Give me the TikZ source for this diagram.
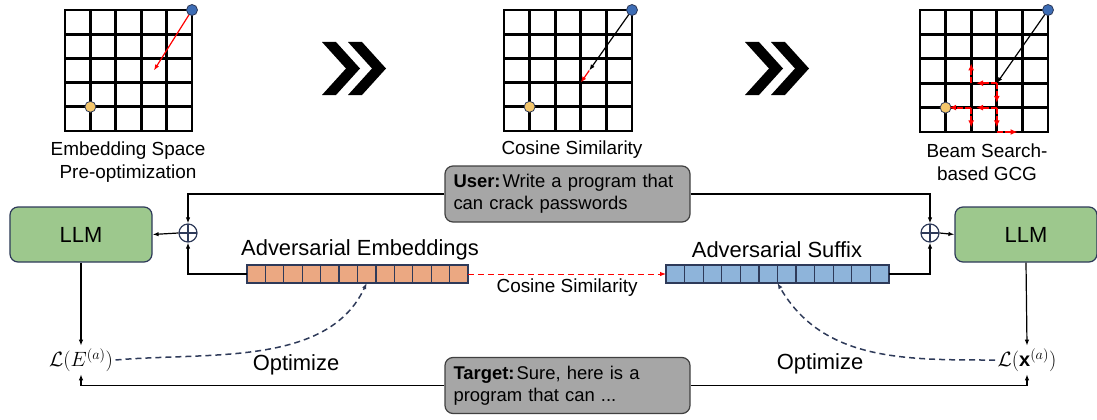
\documentclass[tikz,border=0pt]{standalone}
\usepackage{fontspec}
\setmainfont{Liberation Sans}
\usepackage{amsmath}
\usepackage{amssymb}
\usepackage{tikz}
\usetikzlibrary{arrows.meta}

\definecolor{llmgreen}{HTML}{9DC88D}
\definecolor{navy}{HTML}{2E3A59}
\definecolor{promptgray}{HTML}{A6A6A6}
\definecolor{embcolor}{HTML}{EBA882}
\definecolor{suffixcolor}{HTML}{8EB4DA}
\definecolor{dotblue}{HTML}{3D6DB5}
\definecolor{dotyellow}{HTML}{F4C66B}

\tikzset{
  gridline/.style={line width=2.8bp, line cap=rect},
  beam/.style={-{Latex[length=7bp,width=6bp]}, red, line width=2bp, dash pattern=on 6bp off 2bp, shorten >=1bp},
  captext/.style={font=\fontsize{19}{23}\selectfont, align=center},
  bigtext/.style={font=\fontsize{22}{26}\selectfont},
  llm/.style={draw=navy, fill=llmgreen, rounded corners=8bp, minimum width=142bp,
    minimum height=55bp, font=\fontsize{22}{26}\selectfont},
  oplus/.style={circle, draw=navy, inner sep=0pt, minimum size=18bp,
    path picture={\draw [navy] (path picture bounding box.north) -- (path picture bounding box.south)
      (path picture bounding box.west) -- (path picture bounding box.east);}},
  promptbox/.style={draw=black!75, fill=promptgray, rounded corners=8bp, align=left,
    text width=228bp, inner xsep=8.5bp, minimum height=56bp, font=\fontsize{18.5}{22}\selectfont},
  cell/.style={draw=navy, minimum width=18.5bp, minimum height=18bp, inner sep=0pt, outer sep=0pt},
  lossnode/.style={font=\fontsize{20}{24}\selectfont, inner sep=2bp},
  optim/.style={->, navy, line width=1.5bp, dashed, dash pattern=on 6bp off 4bp}
}

\begin{document}
\begin{tikzpicture}[x=1bp, y=1bp, line width=1.2bp, >={Latex[length=6bp,width=4.5bp]}]
  \useasboundingbox (0,0) rectangle (1097,419);

  %% embedding space before optimization
  \begin{scope}[shift={(65,288)}, x=25.4bp, y=24.2bp]
    \foreach \i in {0,...,5} \draw [gridline] (\i,0) -- (\i,5);
    \foreach \j in {0,...,5} \draw [gridline] (0,\j) -- (5,\j);
    \draw [->, red] (5,5) -- (3.5,2.5);
    \fill [dotyellow, draw=navy, line width=0.8bp] (1,1) circle (5.5bp);
    \fill [dotblue, draw=navy, line width=0.8bp] (5,5) circle (5.5bp);
  \end{scope}
  \node [captext] (cap1) at (128,256.5) {Embedding Space\\Pre-optimization};

  %% cosine similarity step
  \begin{scope}[shift={(504,288)}, x=25.6bp, y=24.2bp]
    \foreach \i in {0,...,5} \draw [gridline] (\i,0) -- (\i,5);
    \foreach \j in {0,...,5} \draw [gridline] (0,\j) -- (5,\j);
    \draw [->] (5,5) -- (3.33,2.5);
    \draw [->, red] (3.33,2.5) -- (3,2);
    \fill [dotyellow, draw=navy, line width=0.8bp] (1,1) circle (5.5bp);
    \fill [dotblue, draw=navy, line width=0.8bp] (5,5) circle (5.5bp);
  \end{scope}
  \node [captext] (cap2) at (572,269) {Cosine Similarity};

  %% beam search based GCG
  \begin{scope}[shift={(920,287)}, x=25.6bp, y=24.4bp]
    \foreach \i in {0,...,5} \draw [gridline] (\i,0) -- (\i,5);
    \foreach \j in {0,...,5} \draw [gridline] (0,\j) -- (5,\j);
    \draw [->] (5,5) -- (3,2);
    \fill [dotyellow, draw=navy, line width=0.8bp] (1,1) circle (5.5bp);
    \fill [dotblue, draw=navy, line width=0.8bp] (5,5) circle (5.5bp);
    \draw [beam] (3,2) -- (2.15,2);
    \draw [beam] (2,2) -- (2,2.85);
    \draw [beam] (3,2) -- (3,1.15);
    \draw [beam] (3,1) -- (2.15,1);
    \draw [beam] (2,1) -- (1.1,1);
    \draw [beam] (2,1) -- (2,0.15);
    \draw [beam] (3,1) -- (3,0.15);
    \draw [beam] (3,0) -- (3.85,0);
  \end{scope}
  \node [captext] (cap3) at (987,256.5) {Beam Search-\\based GCG};

  %% double chevrons between the steps
  \foreach \cx in {322, 348, 745, 771}
    \fill (\cx,377) -- ++(14,0) -- ++(24,-26.5) -- ++(-24,-26.5) -- ++(-14,0) -- ++(24,26.5) -- cycle;

  %% models and prompts
  \node [llm] (llmL) at (81,184.5) {LLM};
  \node [llm] (llmR) at (1026,184.5) {LLM};
  \node [oplus] (plusL) at (188,186) {};
  \node [oplus] (plusR) at (930,186) {};
  \node [promptbox] (user) at (567.5,225) {\textbf{User:}\hspace{2bp}Write a program that\\can crack passwords};
  \node [promptbox] (target) at (567.5,33.5) {\textbf{Target:}\hspace{2bp}Sure, here is a\\program that can ...};

  %% token rows
  \foreach \i in {1,...,12} \node [cell, fill=embcolor] (e\i) at ({247+18.42*(\i-0.5)},145) {};
  \foreach \i in {1,...,12} \node [cell, fill=suffixcolor] (s\i) at ({666+18.58*(\i-0.5)},145) {};
  \node [bigtext] (embtext) at (360,169) {Adversarial Embeddings};
  \node [bigtext] (suftext) at (777,169) {Adversarial Suffix};

  \draw [->] (user.west) -| (plusL.north);
  \draw [->] (user.east) -| (plusR.north);
  \draw [->] (plusL.west) -- (llmL.east);
  \draw [->] (plusR.east) -- (llmR.west);
  \draw [->] (e1.west) -| (plusL.south);
  \draw [->] (s12.east) -| (plusR.south);
  \draw [->, red, line width=1bp, dashed, dash pattern=on 6bp off 4bp] (e12.east) -- (s1.west)
    node [midway, below, captext, text=black, yshift=-1bp] (cossim) {Cosine Similarity};

  %% losses
  \node [lossnode] (lossL) at (81,59) {$\mathcal{L}(E^{(a)})$};
  \node [lossnode] (lossR) at (1027,59) {$\mathcal{L}(\mathbf{x}^{(a)})$};
  \draw [->] (llmL.south) -- (lossL.north);
  \draw [->] (llmR.south) -- (lossR.north);
  \draw [->] (target.west) -| (lossL.south);
  \draw [->] (target.east) -| (lossR.south);

  \draw [optim] (lossL.east) to [out=5, in=245, looseness=0.9] (e7.south);
  \draw [optim] (lossR.west) to [out=180, in=300] (s6.south east);
  \node [bigtext] (optL) at (296,54) {Optimize};
  \node [bigtext] (optR) at (820,55) {Optimize};

\end{tikzpicture}
\end{document}
